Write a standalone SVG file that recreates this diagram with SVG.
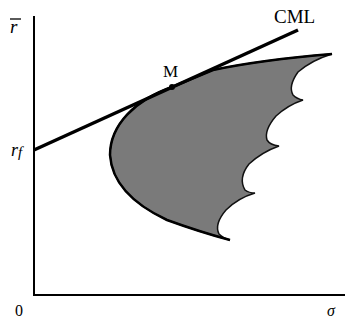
<svg xmlns="http://www.w3.org/2000/svg" width="345" height="322" viewBox="0 0 345 322">
<style>
.ax{stroke:#000;stroke-width:2;fill:none}
.t{font-family:"Liberation Serif",serif;fill:#000}
.i{font-style:italic}
</style>
<rect width="345" height="322" fill="#fff"/>
<g id="region">
<path d="M172,87 L213,70 Q260,60 332,54 Q312,60 298,72 Q288,86 293,95 Q297,99 303,100 Q288,105 276,116 Q264,130 267,140 Q270,145 279,146 Q262,152 249,164 Q238,178 245,190 Q249,193 255,193 Q238,198 226,210 Q214,224 219,234 Q223,238 230,240 Q200,232 167,220 C135,205 112,185 110,155 C110,125 135,100 172,87 Z" fill="#7a7a7a" stroke="#111" stroke-width="1.5"/>
<path d="M230,240 Q200,232 167,220 C135,205 112,185 110,155 C110,125 135,100 172,87 L213,70 Q260,60 332,54" fill="none" stroke="#000" stroke-width="2.5"/>
</g>
<g id="axes">
<line class="ax" x1="34" y1="16" x2="34" y2="295"/>
<line class="ax" x1="33" y1="295" x2="345" y2="295"/>
</g>
<g id="connectors">
<line x1="34" y1="150" x2="298" y2="30" stroke="#000" stroke-width="3.5"/>
</g>
<g id="M">
<circle cx="172" cy="87" r="3" fill="#000"/>
<text class="t" x="163" y="77" font-size="17">M</text>
</g>
<g id="labels">
<text class="t" x="274" y="23" font-size="19">CML</text>
<text class="t i" x="10" y="33" font-size="19">r</text>
<line x1="10" y1="19" x2="21" y2="19" stroke="#000" stroke-width="1.3"/>
<text class="t i" x="11" y="156" font-size="18">r<tspan font-size="15" dy="1">f</tspan></text>
<text class="t" x="15" y="316" font-size="16">0</text>
<text class="t i" x="327" y="316" font-size="16">σ</text>
</g>
</svg>
